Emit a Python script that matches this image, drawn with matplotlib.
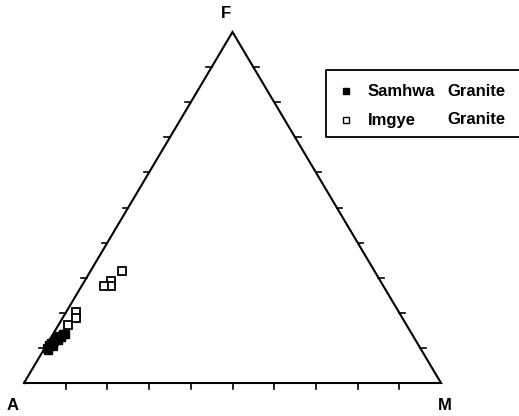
#!/usr/bin/env python3

import numpy as np
import matplotlib.pyplot as plt

# ternary values in percent: (F, M); A = 100 - F - M
samhwa_F = [10.0, 10.8, 11.4, 10.5, 12.0, 12.8, 12.3, 13.4, 13.1, 14.0, 14.0, 9.4]
samhwa_M = [0.5, 0.6, 0.8, 1.7, 1.2, 1.3, 2.0, 1.7, 2.3, 2.4, 2.9, 1.1]

imgye_F = [31.9, 29.1, 27.5, 27.5, 20.1, 18.4, 16.5]
imgye_M = [7.6, 6.3, 7.1, 5.4, 2.4, 3.3, 2.4]

tick_steps = [10, 20, 30, 40, 50, 60, 70, 80, 90]
vertex_labels = ['A', 'M', 'F']
legend_names = [('Samhwa', 'Granite'), ('Imgye', 'Granite')]


def to_xy(F, M):
    F = np.asarray(F) / 100.0
    M = np.asarray(M) / 100.0
    return M + F / 2, F


def main():
    plt.rcParams['font.family'] = ['Liberation Sans', 'DejaVu Sans']
    W, H = 519, 416
    fig = plt.figure(figsize=(W / 100, H / 100), dpi=100)
    # triangle: A at (24,383), M at (441,383), F apex at y=32
    ax = fig.add_axes([24 / W, (H - 383) / H, 417 / W, 351 / H])
    ax.set_xlim(0, 1)
    ax.set_ylim(0, 1)
    ax.axis('off')

    ax.plot([0, 1, 0.5, 0], [0, 0, 1, 0], color='black', lw=1.5,
            clip_on=False, solid_joinstyle='miter')

    # ticks, all pointing outward
    tx = 5.5 / 417
    ty = 6 / 351
    for t in tick_steps:
        f = t / 100.0
        ax.plot([f, f], [0, -ty], color='black', lw=1.2, clip_on=False)
        xl, yl = to_xy(t, 0)
        ax.plot([xl, xl - tx], [yl, yl], color='black', lw=1.2, clip_on=False)
        xr, yr = to_xy(t, 100 - t)
        ax.plot([xr, xr + tx], [yr, yr], color='black', lw=1.2, clip_on=False)

    sx, sy = to_xy(samhwa_F, samhwa_M)
    ax.plot(sx, sy, 's', color='black', ms=6, clip_on=False)
    ix, iy = to_xy(imgye_F, imgye_M)
    ax.plot(ix, iy, 's', mfc='white', mec='black', mew=1.3, ms=5.5,
            clip_on=False)

    fig.text(12.5 / W, 1 - 406 / H, vertex_labels[0], fontsize=12,
             fontweight='bold', ha='center', va='center')
    fig.text(445 / W, 1 - 406 / H, vertex_labels[1], fontsize=12,
             fontweight='bold', ha='center', va='center')
    fig.text(226 / W, 1 - 14 / H, vertex_labels[2], fontsize=12,
             fontweight='bold', ha='center', va='center')

    # legend box (right edge runs off the figure)
    lx0, ly0, ly1 = 326 / W, 1 - 70 / H, 1 - 137 / H
    fig.add_artist(plt.Line2D([1.01, lx0, lx0, 1.01], [ly0, ly0, ly1, ly1],
                              color='black', lw=1.3, transform=fig.transFigure))
    rows = [91, 120]
    for (name, kind), ry, filled in zip(legend_names, rows, [True, False]):
        y = 1 - ry / H
        fig.add_artist(plt.Line2D([346 / W], [y], marker='s',
                                  mfc='black' if filled else 'white',
                                  mec='black', mew=1, ms=5,
                                  transform=fig.transFigure))
        fig.text(368 / W, y, name, fontsize=12, fontweight='bold', va='center')
        fig.text(447 / W, y, kind, fontsize=12, fontweight='bold', va='center')

    fig.savefig('out.png', dpi=100)


if __name__ == "__main__":
    main()
